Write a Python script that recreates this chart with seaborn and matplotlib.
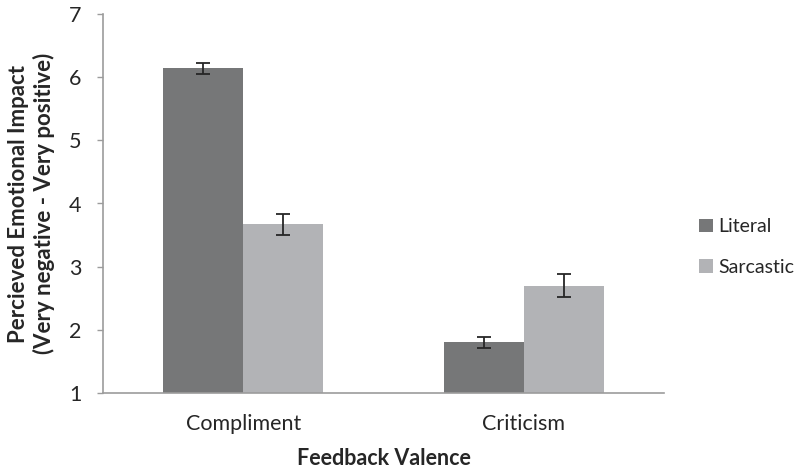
import matplotlib
matplotlib.use("Agg")
import matplotlib.pyplot as plt
import seaborn as sns
import pandas as pd
from matplotlib.patches import Patch

categories = ["Compliment", "Criticism"]
conditions = ["Literal", "Sarcastic"]
literal_means = [6.14, 1.80]
sarcastic_means = [3.67, 2.70]
literal_err = [0.09, 0.08]
sarcastic_err = [0.17, 0.18]
y_ticks = [1, 2, 3, 4, 5, 6, 7]

colors = {"Literal": "#767778", "Sarcastic": "#b2b3b6"}
axis_color = "#9c9c9c"
text_color = "#262626"

rows = []
for i, c in enumerate(categories):
    rows.append({"Valence": c, "Condition": "Literal", "Mean": literal_means[i], "Err": literal_err[i]})
    rows.append({"Valence": c, "Condition": "Sarcastic", "Mean": sarcastic_means[i], "Err": sarcastic_err[i]})
df = pd.DataFrame(rows)

sns.set_style("white")
plt.rcParams["font.family"] = ["Lato", "DejaVu Sans"]

fs = 15.5

fig = plt.figure(figsize=(8.05, 4.73), dpi=100)
ax = fig.add_axes([103 / 805, 1 - 393 / 473, (664 - 103) / 805, (393 - 14) / 473])

sns.barplot(data=df, x="Valence", y="Mean", hue="Condition", order=categories,
            hue_order=conditions, palette=colors, width=0.572, errorbar=None,
            saturation=1, linewidth=0, ax=ax, legend=False)

errs = {"Literal": literal_err, "Sarcastic": sarcastic_err}
for cond, cont in zip(conditions, ax.containers):
    for bar, e in zip(cont.patches, errs[cond]):
        xc = bar.get_x() + bar.get_width() / 2
        ax.errorbar(xc, bar.get_height(), yerr=e, fmt="none", ecolor="#262626",
                    elinewidth=1.3, capsize=5, capthick=1.3, zorder=5)

ax.set_ylim(1, 7)
ax.set_xlim(-0.5, 1.5)
ax.set_yticks(y_ticks)
ax.set_yticklabels([str(t) for t in y_ticks], fontsize=fs, color=text_color)
ax.set_xticks([0, 1])
ax.set_xticklabels(categories, fontsize=fs, color=text_color)
ax.set_xticks([-0.5, 0.5, 1.5], minor=True)
ax.tick_params(axis="x", which="major", length=0, pad=15)
ax.tick_params(axis="x", which="minor", length=5, width=1, color=axis_color, direction="out")
ax.tick_params(axis="y", which="major", length=4.5, width=1, color=axis_color, direction="out", pad=11, left=True)

for s in ["top", "right"]:
    ax.spines[s].set_visible(False)
for s in ["left", "bottom"]:
    ax.spines[s].set_color(axis_color)
    ax.spines[s].set_linewidth(1.2)

ax.set_xlabel("Feedback Valence", fontsize=fs, fontweight="bold", color=text_color, labelpad=10)
ax.set_ylabel("Percieved Emotional Impact\n(Very negative - Very positive)", fontsize=fs + 0.5,
              fontweight="bold", color=text_color, labelpad=10, linespacing=1.2)

handles = [Patch(facecolor=colors[c], edgecolor="none") for c in conditions]
fig.legend(handles, conditions, loc="center left", bbox_to_anchor=(699 / 805, 1 - 247 / 473),
           frameon=False, fontsize=14, handlelength=0.7, handleheight=0.7,
           handletextpad=0.3, labelspacing=1.2, labelcolor=text_color, borderpad=0,
           borderaxespad=0)

fig.savefig("out.png", dpi=100)
